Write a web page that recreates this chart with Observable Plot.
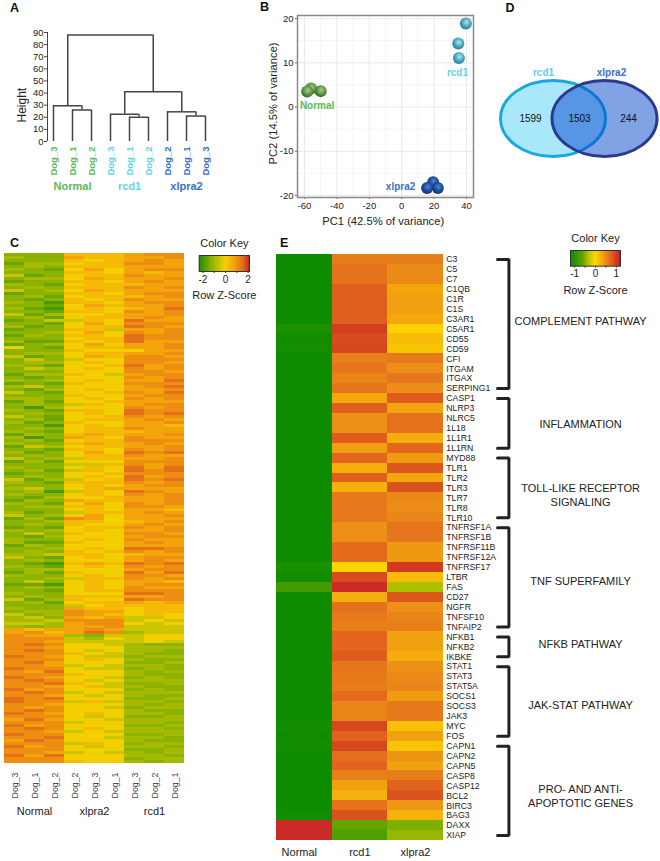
<!DOCTYPE html>
<html><head><meta charset="utf-8">
<script src="https://cdn.jsdelivr.net/npm/d3@7"></script>
<script src="https://cdn.jsdelivr.net/npm/@observablehq/plot@0.6"></script>
<style>
html,body{margin:0;padding:0;background:#fff}
#page{position:relative;width:660px;height:861px;overflow:hidden;font-family:"Liberation Sans",Arial,sans-serif}
#page svg{position:absolute;overflow:visible}
.letter{position:absolute;font:bold 12.5px "Liberation Sans",Arial,sans-serif;color:#111;line-height:12px}
</style></head><body>
<svg width="0" height="0" style="position:absolute"><defs>
<radialGradient id="sNormal" cx="55%" cy="40%" r="60%"><stop offset="0" stop-color="#a9d08a"/><stop offset=".55" stop-color="#609a48"/><stop offset="1" stop-color="#2f6428"/></radialGradient>
<radialGradient id="sRcd1" cx="55%" cy="40%" r="60%"><stop offset="0" stop-color="#b6e6f0"/><stop offset=".55" stop-color="#4fabc4"/><stop offset="1" stop-color="#2a7a94"/></radialGradient>
<radialGradient id="sXlpra2" cx="55%" cy="40%" r="60%"><stop offset="0" stop-color="#4f86d0"/><stop offset=".55" stop-color="#1c4f9c"/><stop offset="1" stop-color="#0f2f6c"/></radialGradient>
</defs></svg>
<div id="page"></div>
<script>
// ---------- Panel A: dendrogram
const leafNames = ["Dog_3","Dog_1","Dog_2","Dog_3","Dog_1","Dog_2","Dog_2","Dog_1","Dog_3"];
const leafGroups = ["Normal","Normal","Normal","rcd1","rcd1","rcd1","xlpra2","xlpra2","xlpra2"];
const mergeLeft   = [1,4,7,0,3,6,3.75,0.75];
const mergeRight  = [2,5,8,1.5,4.5,7.5,6.75,5.25];
const mergeLeftH  = [0,0,0,0,0,0,22.5,29.5];
const mergeRightH = [0,0,0,26,20,21,24.5,41];
const mergeH      = [26,20,21,29.5,22.5,24.5,41,88];

// ---------- Panel B: PCA
const pcaGroups = ["Normal","rcd1","xlpra2"];
const pc1Normal = [-55.9,-58.3,-50]; const pc2Normal = [4.2,3.5,3.6];
const pc1Rcd1   = [39.6,34.9,35.3];  const pc2Rcd1   = [18.9,14.35,11.1];
const pc1Xlpra2 = [19.4,15.7,22.3];  const pc2Xlpra2 = [-17,-18.3,-18.3];

// ---------- Panel D: Venn counts
const vennRegions = ["rcd1 only","both","xlpra2 only"];
const vennCounts  = [1599,1503,244];

// ---------- Panel C: heat map, rows of 9 read-off levels (Normal x3, xlpra2 x3, rcd1 x3)
const heatColumns = ["N3","N1","N2","X2","X3","X1","R3","R2","R1"];
const heatColumnLabels = ["Dog_3","Dog_1","Dog_2","Dog_2","Dog_3","Dog_1","Dog_3","Dog_2","Dog_1"];
const heatLevelZ = [-1.9,-1.55,-1.2,-0.9,-0.45,0,0.4,0.8,1.1,1.5];
const heatUpper = `222666788 322766778 222656787 133566887 232666777 321575788 222665767 412566877 233576778 122665787
321566677 232666878 423576777 122665788 231566678 212656877 320665788 221576778 310565679 221665878
413556778 231566787 124465977 221575888 312566987 122664778 223575878 132665988 222566988 311656977
123575778 521566778 222655577 233566778 412576887 242455888 233565887 321556978 243565878 222555887
133654788 212555878 323565779 121655888 342555789 213565778 421556879 222655788 332565878 131556777
232465788 203555878 321665988 232565989 421556878 231566787 312655778 220565776 232566877 321566677`.split(/\s+/);
const heatMiddle = `132676778 302765877 231566888 322676787 143566778 221665878 312575989 232566877 423466778 131555888
222446878 322565979 231465989 122556888 232565978 413456989 321666878 222565788 342567777 230465987
322565878 213556778 132766778 321575878 233665887 222565776 312466787 423575778 131875777 223665678
232655787 121566878 323565778 242655887 213555788 322565877 311655787 132555777 223565998 232656878
334665677 421565788 232555787 210676989 321565878 233555788 131655979 322565887 223466878 242565776
110565788 232565877 221566888 322555998 232666778 413655988 231566767 222456666 322766566 233877566`.split(/\s+/);
const heatLower = `423876565 342767445 334888454 443788545 323778444 767787444 786798344 877324455 888435455 887444454
898554322 887555333 898545332 888654322 987544233 888565322 897555223 887454332 988544232 879555323
888655322 987554232 898545333 889654223 887564322 978555232 898454333 887545322 989555223 988464332
887555323 878554233 898555322 987565332 888545223 797554333 888455332 978555223 898565332 887454333
988555223 889554332 798555322 888465233 978545332 888555223 887454323 979555332 888555233 888655323`.split(/\s+/);

// ---------- Panel E: pathway heat map
const geneNames = ["C3","C5","C7","C1QB","C1R","C1S","C3AR1","C5AR1","CD55","CD59","CFI","ITGAM","ITGAX","SERPING1",
"CASP1","NLRP3","NLRC5","1L18","1L1R1","1L1RN",
"MYD88","TLR1","TLR2","TLR3","TLR7","TLR8","TLR10",
"TNFRSF1A","TNFRSF1B","TNFRSF11B","TNFRSF12A","TNFRSF17","LTBR","FAS","CD27","NGFR","TNFSF10","TNFAIP2",
"NFKB1","NFKB2","IKBKE",
"STAT1","STAT3","STAT5A","SOCS1","SOCS3","JAK3","MYC","FOS",
"CAPN1","CAPN2","CAPN5","CASP8","CASP12","BCL2","BIRC3","BAG3","DAXX","XIAP"];
const zNormal = [-1.15,-1.15,-1.15,-1.15,-1.15,-1.15,-1.15,-1.05,-1.12,-1.1,-1.15,-1.15,-1.15,-1.15,
-1.15,-1.15,-1.15,-1.15,-1.15,-1.15,
-1.15,-1.15,-1.15,-1.15,-1.15,-1.15,-1.15,
-1.15,-1.15,-1.15,-1.15,-1.07,-1.12,-0.8,-1.15,-1.15,-1.15,-1.15,
-1.15,-1.15,-1.15,
-1.15,-1.15,-1.15,-1.15,-1.15,-1.15,-1.11,-1.14,
-1.1,-1.15,-1.15,-1.15,-1.15,-1.15,-1.15,-1.13,1.15,1.15];
const zRcd1 = [.6,.68,.68,.8,.8,.8,.8,1.0,.92,.95,.58,.65,.55,.65,
.33,.8,.48,.48,.82,.4,
.75,.3,.8,.27,.62,.62,.62,
.48,.5,.72,.72,.03,.92,1.15,.3,.68,.62,.58,
.76,.76,.82,
.65,.62,.6,.72,.55,.55,.95,.78,
.95,.7,.76,.58,.38,.27,.68,.88,-.6,-.72];
const zXlpra2 = [.6,.52,.52,.35,.38,.38,.33,.05,.2,.15,.62,.5,.65,.5,
.82,.36,.68,.68,.3,.75,
.42,.85,.35,.88,.53,.5,.55,
.67,.65,.43,.43,1.03,.2,-.35,.85,.48,.55,.58,
.38,.38,.3,
.48,.52,.55,.42,.62,.62,.17,.38,
.14,.46,.38,.6,.77,.88,.45,.25,-.5,-.42];
const pathwayNames = ["COMPLEMENT PATHWAY","INFLAMMATION","TOLL-LIKE RECEPTOR\nSIGNALING","TNF SUPERFAMILY","NFKB PATHWAY","JAK-STAT PATHWAY","PRO- AND ANTI-\nAPOPTOTIC GENES"];
const pathwayFirst = ["C3","CASP1","MYD88","TNFRSF1A","NFKB1","STAT1","CAPN1"];
const pathwayLast  = ["SERPING1","1L1RN","TLR10","TNFAIP2","IKBKE","FOS","XIAP"];
const pathwayAnchor= ["C3AR1","NLRC5","TLR7","LTBR","NFKB2","SOCS3","BCL2"];
const pathwayDy    = [1.5,5,-3,3,-3.5,-2,0];
const sampleGroups = ["Normal","rcd1","xlpra2"];

// ---------- styling helpers
const GREEN="#5cb85a", CYAN="#5fd3ee", BLUE="#3a6fd0", INK="#333";
const FONT={fontFamily:'"Liberation Sans",Arial,sans-serif',background:"transparent",color:INK};
const page=document.getElementById("page");
function place(p,left,top){p.style.left=left+"px";p.style.top=top+"px";page.appendChild(p);return p;}
function letter(t,x,y){const d=document.createElement("div");d.className="letter";d.textContent=t;d.style.left=x+"px";d.style.top=y+"px";page.appendChild(d);}
letter("A",10,2);letter("B",260,1);letter("D",505.5,2);letter("C",10,237);letter("E",280,237);

// ---------- A
const leafData=leafNames.map((n,i)=>({n,i,g:leafGroups[i]}));
const groupColor=g=>g==="Normal"?GREEN:g==="rcd1"?CYAN:BLUE;
const merges=mergeH.map((h,i)=>({l:mergeLeft[i],r:mergeRight[i],lh:mergeLeftH[i],rh:mergeRightH[i],h}));
place(Plot.plot({width:230,height:210,marginLeft:47,marginRight:0,marginTop:32,marginBottom:69,style:FONT,
  x:{domain:[-0.316,9.316],axis:null},y:{domain:[0,90]},
  marks:[
    Plot.axisY({ticks:d3.range(0,91,10),tickSize:3,tickPadding:1,label:null,fontSize:9.5,stroke:"#444",color:"#222"}),
    Plot.ruleX([-0.316],{y1:0,y2:90,stroke:"#444"}),
    Plot.ruleX(merges,{x:"l",y1:"lh",y2:"h",stroke:"#444",strokeWidth:1.5}),
    Plot.ruleX(merges,{x:"r",y1:"rh",y2:"h",stroke:"#444",strokeWidth:1.5}),
    Plot.ruleY(merges,{y:"h",x1:"l",x2:"r",stroke:"#444",strokeWidth:1.5}),
    Plot.text(["Height"],{text:d=>d,x:()=>-0.316,y:()=>30,dx:-25,rotate:-90,fontSize:12,fill:"#222"}),
    Plot.text(leafData,{x:"i",y:()=>0,text:"n",rotate:-90,textAnchor:"end",dy:5,fontWeight:"bold",fontSize:9.5,fill:d=>groupColor(d.g)}),
    ...pcaGroups.map((g,i)=>Plot.text([g],{text:d=>d,x:()=>3*i+1,y:()=>0,dy:45,fontWeight:"bold",fontSize:11,fill:groupColor(g)}))
  ]}),0,0);

// ---------- B
const pcaSeries=[[pc1Normal,pc2Normal,"sNormal"],[pc1Rcd1,pc2Rcd1,"sRcd1"],[pc1Xlpra2,pc2Xlpra2,"sXlpra2"]];
const pcaLabelX=[-52.2,34.4,-0.7], pcaLabelY=[0.34,7.8,-18];
place(Plot.plot({width:240,height:230,marginLeft:57,marginRight:7,marginTop:15,marginBottom:33,style:FONT,
  x:{domain:[-64.3,44.3]},y:{domain:[-20.45,20.7]},
  marks:[
    Plot.ruleX(d3.range(-50,41,20),{stroke:"#f4f4f4"}),
    Plot.ruleY(d3.range(-15,16,10),{stroke:"#f4f4f4"}),
    Plot.ruleX(d3.range(-60,41,20),{stroke:"#e9e9e9"}),
    Plot.ruleY(d3.range(-20,21,10),{stroke:"#e9e9e9"}),
    Plot.axisX({ticks:d3.range(-60,41,20),tickSize:2,tickPadding:3,label:null,tickFormat:String,fontSize:9.5,stroke:"#666",color:"#222"}),
    Plot.axisY({ticks:d3.range(-20,21,10),tickSize:2,tickPadding:2,label:null,tickFormat:String,fontSize:9.5,stroke:"#666",color:"#222"}),
    Plot.frame({stroke:"#8a8a8a",strokeWidth:1.5}),
    ...pcaSeries.map(([xs,ys,id])=>Plot.dot(xs.map((x,i)=>({x,y:ys[i]})),{x:"x",y:"y",r:6,fill:`url(#${id})`,stroke:"none"})),
    ...pcaGroups.map((g,i)=>Plot.text([g],{text:d=>d,x:()=>pcaLabelX[i],y:()=>pcaLabelY[i],fontWeight:"bold",fontSize:10,fill:groupColor(g)})),
    Plot.text(["PC1 (42.5% of variance)"],{text:d=>d,frameAnchor:"bottom",lineAnchor:"middle",dy:24,dx:-2.3,fontSize:11.2,fill:"#222"}),
    Plot.text(["PC2 (14.5% of variance)"],{text:d=>d,frameAnchor:"left",textAnchor:"middle",rotate:-90,dx:-24.3,dy:-3,fontSize:11.2,fill:"#222"})
  ]}),240,0);

// ---------- D
const ellipse={draw(ctx,size){const rx=Math.sqrt(size/Math.PI),ry=rx*38/52.5,k=0.5523;
  ctx.moveTo(rx,0);
  ctx.bezierCurveTo(rx,k*ry,k*rx,ry,0,ry);ctx.bezierCurveTo(-k*rx,ry,-rx,k*ry,-rx,0);
  ctx.bezierCurveTo(-rx,-k*ry,-k*rx,-ry,0,-ry);ctx.bezierCurveTo(k*rx,-ry,rx,-k*ry,rx,0);ctx.closePath();}};
place(Plot.plot({width:170,height:116,marginLeft:0,marginRight:0,marginTop:0,marginBottom:0,style:FONT,
  x:{type:"point",domain:vennRegions,range:[40,138],padding:0,axis:null},
  marks:[
    Plot.dot(["rcd1 only"],{x:d=>d,dx:22.5,r:52.5,symbol:ellipse,fill:"#a9e8fb",stroke:"#1aa8e0",strokeWidth:3}),
    Plot.dot(["xlpra2 only"],{x:d=>d,dx:-24,r:52.5,symbol:ellipse,fill:"#0041cc",fillOpacity:.49,stroke:"#2b3a8e",strokeWidth:3}),
    Plot.text(vennRegions,{x:d=>d,text:(d,i)=>String(vennCounts[i]),fontSize:10,fill:"#111"}),
    Plot.text(["rcd1 only"],{x:d=>d,text:()=>"rcd1",dx:13,dy:-46,fontWeight:"bold",fontSize:10,fill:"#63cdef"}),
    Plot.text(["xlpra2 only"],{x:d=>d,text:()=>"xlpra2",dx:-17,dy:-46,fontWeight:"bold",fontSize:10,fill:BLUE})
  ]}),490,60);

// ---------- color scales
const colorC={type:"linear",domain:[-2.3,-1.3,-0.5,0,0.8,1.6,2.0,2.25],range:["#208c00","#82b000","#c9c400","#f4cf00","#f3a40a","#e2681c","#cc3a20","#6a1a12"]};
const colorE={type:"linear",domain:[-1.2,-0.6,-0.35,0,0.35,0.57,0.8,1.0,1.15,1.2],range:["#058a00","#60a400","#adc000","#ffd800","#f2a60e","#e8821a","#e05f1c","#d23e20","#cc2a26","#701a14"]};

// ---------- C
const heatRows=[...heatUpper,...heatMiddle,...heatLower];
const heatCells=heatRows.flatMap((row,r)=>heatColumns.map((c,j)=>({r,c,z:heatLevelZ[+row[j]]})));
const cGroupAt=["N1","X3","R2"], cGroupNames=["Normal","xlpra2","rcd1"];
place(Plot.plot({width:190,height:580,marginLeft:2,marginRight:4,marginTop:12,marginBottom:57,style:FONT,
  x:{type:"band",domain:heatColumns,padding:0,axis:null},
  y:{type:"band",domain:d3.range(heatRows.length),padding:0,axis:null},
  color:colorC,
  marks:[
    Plot.cell(heatCells,{x:"c",y:"r",fill:"z",shapeRendering:"crispEdges"}),
    Plot.text(heatColumns,{x:d=>d,text:(d,i)=>heatColumnLabels[i],frameAnchor:"bottom",rotate:-90,textAnchor:"end",lineAnchor:"middle",dy:9,dx:.5,fontSize:8.8,fill:"#444"}),
    Plot.text(cGroupAt,{x:d=>d,text:(d,i)=>cGroupNames[i],frameAnchor:"bottom",lineAnchor:"middle",dy:48,fontSize:11,fill:"#222"})
  ]}),0,240);

// ---------- E
const eCols=[zNormal,zRcd1,zXlpra2];
const eBars=eCols.flatMap((col,j)=>col.map((z,i)=>({g:geneNames[i],x1:j,x2:j+1,z})));
const BL=3.975,BR=4.18,LABX=5.468,GENEX=3;
place(Plot.plot({width:390,height:621,marginLeft:6,marginRight:0,marginTop:14,marginBottom:21,style:FONT,
  x:{domain:[0,6.906],axis:null},
  y:{type:"band",domain:geneNames,padding:0,axis:null},
  color:colorE,
  marks:[
    Plot.barX(eBars,{x1:"x1",x2:"x2",y:"g",fill:"z",shapeRendering:"crispEdges"}),
    Plot.text(geneNames,{y:d=>d,x:()=>GENEX,text:d=>d,textAnchor:"start",dx:3,fontSize:8.7,fill:"#222"}),
    ...pathwayFirst.map((f,i)=>Plot.line([{x:BL,y:f},{x:BR,y:f},{x:BR,y:pathwayLast[i]},{x:BL,y:pathwayLast[i]}],{x:"x",y:"y",stroke:"#222",strokeWidth:3,strokeLinejoin:"miter",curve:"linear"})),
    ...pathwayNames.map((n,i)=>Plot.text([n],{text:d=>d,x:()=>LABX,y:()=>pathwayAnchor[i],dy:pathwayDy[i],fontSize:11,lineHeight:1.2,fill:"#222"})),
    ...sampleGroups.map((g,j)=>Plot.text([g],{text:d=>d,x:()=>j+.5,frameAnchor:"bottom",lineAnchor:"middle",dy:12,dx:j===0?-5:0,fontSize:11,fill:"#222"}))
  ]}),270,240);

// ---------- keys
function key(domain,ticks,color,left,top,w,h,ml,mr,mt,mb,labelFn){
  const stops=d3.range(0,120).map(i=>{const a=domain[0]+(domain[1]-domain[0])*i/120,b=domain[0]+(domain[1]-domain[0])*(i+1)/120;return {a,b,z:(a+b)/2};});
  return place(Plot.plot({width:w,height:h,marginLeft:ml,marginRight:mr,marginTop:mt,marginBottom:mb,style:FONT,
    x:{domain},color,
    marks:[
      Plot.barX(stops,{x1:"a",x2:"b",fill:"z",shapeRendering:"crispEdges"}),
      Plot.frame({stroke:"#333",strokeWidth:1}),
      Plot.axisX({ticks,tickSize:2,tickPadding:2,label:null,tickFormat:labelFn,fontSize:10,stroke:"#333",color:"#222"}),
      Plot.text(["Color Key"],{text:d=>d,frameAnchor:"top",lineAnchor:"middle",dy:-12,fontSize:11,fill:"#222"}),
      Plot.text(["Row Z-Score"],{text:d=>d,frameAnchor:"bottom",lineAnchor:"middle",dy:24,fontSize:11,fill:"#222"})
    ]}),left,top);
}
key([-2.33,2.12],[-2,-1,0,1,2],colorC,185,234,80,70,13.7,16,21,33,d=>d%2?"":String(d));
key([-1.2,1.2],[-1,-.5,0,.5,1],colorE,555,228,80,70,15,15,22,32.3,d=>Number.isInteger(d)?String(d):"");
</script>
</body></html>
